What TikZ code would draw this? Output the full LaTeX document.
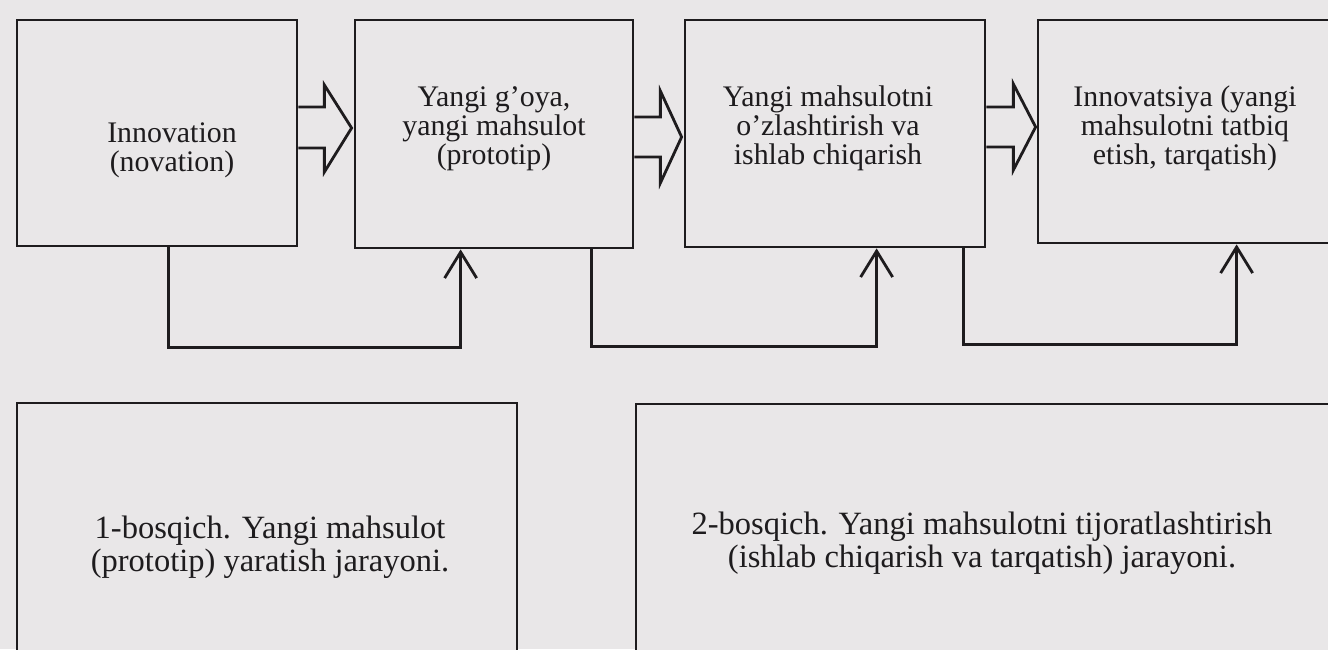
\documentclass[tikz,border=0pt]{standalone}
\usepackage{fontspec}
\setmainfont{Liberation Serif}
\usetikzlibrary{arrows.meta,calc}
\definecolor{paper}{RGB}{233,231,232}
\definecolor{ink}{RGB}{30,28,30}
\begin{document}
\begin{tikzpicture}[x=0.02cm,y=-0.02cm,
  box/.style={draw=ink, line width=1.6pt, fill=paper, inner sep=0pt},
  toptext/.style={align=center, text=ink, font=\fontsize{17}{16.5}\selectfont, inner sep=0pt},
  bottext/.style={align=center, text=ink, font=\fontsize{18.5}{18.5}\selectfont, inner sep=0pt},
  hollow/.style={draw=ink, line width=1.6pt, fill=paper, line join=miter},
  fb/.style={draw=ink, line width=1.6pt, -{Straight Barb[length=0.52cm, width=0.64cm, line width=1.6pt]}},
]
\useasboundingbox (0,0) rectangle (1328,649);
\fill[paper] (0,0) rectangle (1328,649);
\clip (0,0) rectangle (1328,649);

% top boxes
\node[box, minimum width=5.6cm,  minimum height=4.52cm] (b1) at (157,133) {};
\node[box, minimum width=5.56cm, minimum height=4.56cm] (b2) at (494,134) {};
\node[box, minimum width=6.0cm,  minimum height=4.54cm] (b3) at (835,133.5) {};
\node[box, minimum width=6.04cm, minimum height=4.46cm] (b4) at (1189,131.5) {};

% bottom boxes
\node[box, minimum width=10.0cm,  minimum height=5.34cm] (bA) at (267,536.5) {};
\node[box, minimum width=14.08cm, minimum height=5.32cm] (bB) at (988,537) {};

% texts
\node[toptext] (t1) at (172,150) {Innovation\\(novation)};
\node[toptext] (t2) at (494,129) {Yangi g’oya,\\yangi mahsulot\\(prototip)};
\node[toptext] (t3) at (828,128) {Yangi mahsulotni\\o’zlashtirish va\\ishlab chiqarish};
\node[toptext] (t4) at (1185,128) {Innovatsiya (yangi\\mahsulotni tatbiq\\etish, tarqatish)};
\node[bottext] (tA) at (270,547) {1-bosqich. Yangi mahsulot\\(prototip) yaratish jarayoni.};
\node[bottext] (tB) at (982,543) {2-bosqich. Yangi mahsulotni tijoratlashtirish\\(ishlab chiqarish va tarqatish) jarayoni.};

% hollow arrows
\path[hollow] ($(b1.east)+(0,-26)$) -- ($(b1.east)+(26,-26)$) -- ($(b1.east)+(26,-48)$)
  -- ($(b2.west)+(-2,-6)$) -- ($(b1.east)+(26,39)$) -- ($(b1.east)+(26,15)$) -- ($(b1.east)+(0,15)$);
\path[hollow] ($(b2.east)+(0,-17)$) -- ($(b2.east)+(26,-17)$) -- ($(b2.east)+(26,-43)$)
  -- ($(b3.west)+(-2,3.5)$) -- ($(b2.east)+(26,49)$) -- ($(b2.east)+(26,23)$) -- ($(b2.east)+(0,23)$);
\path[hollow] ($(b3.east)+(0,-26.5)$) -- ($(b3.east)+(27,-26.5)$) -- ($(b3.east)+(27,-49.5)$)
  -- ($(b4.west)+(-1,-4.5)$) -- ($(b3.east)+(27,36.5)$) -- ($(b3.east)+(27,13.5)$) -- ($(b3.east)+(0,13.5)$);

% feedback connectors
\draw[fb] ($(b1.south west)+(153,0)$) -- ++(0,100) -| ($(b2.south west)+(107,0)$);
\draw[fb] ($(b2.south west)+(238,0)$) -- ++(0,97) -| ($(b3.south west)+(193,0)$);
\draw[fb] ($(b3.south west)+(280,0)$) -- ++(0,96) -| ($(b4.south west)+(200,0)$);
\end{tikzpicture}
\end{document}
